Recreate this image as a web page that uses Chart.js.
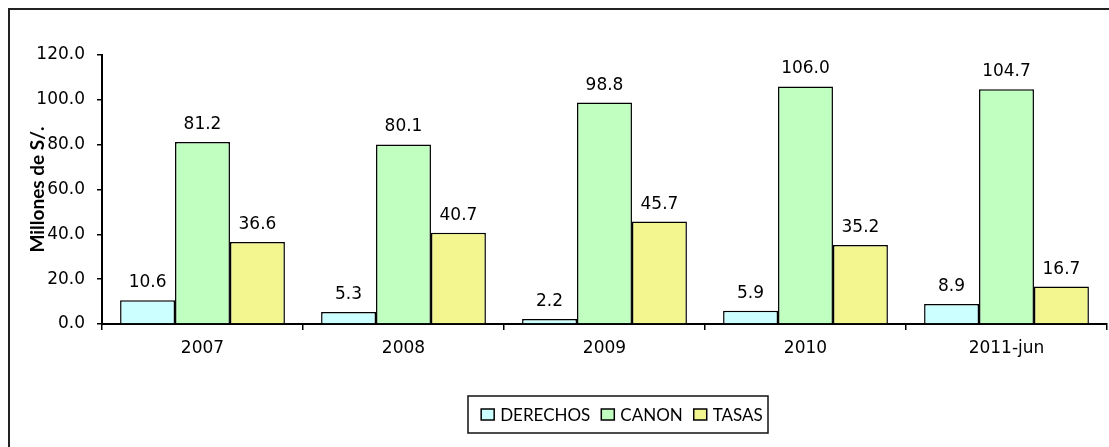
<!DOCTYPE html>
<html>
<head>
<meta charset="utf-8">
<script src="https://cdn.jsdelivr.net/npm/chart.js@4.4.0/dist/chart.umd.min.js"></script>
<style>
  html, body { margin: 0; padding: 0; background: #fff; }
  #wrap { width: 1109px; height: 447px; position: relative; }
</style>
</head>
<body>
<div id="wrap"><canvas id="c"></canvas></div>
<script>
// Recaudación por concepto (millones de soles)
const categories = ['2007', '2008', '2009', '2010', '2011-jun'];
const derechos = [10.6, 5.3, 2.2, 5.9, 8.9];
const canon = [81.2, 80.1, 98.8, 106.0, 104.7];
const tasas = [36.6, 40.7, 45.7, 35.2, 16.7];
const yTicks = [0, 20, 40, 60, 80, 100, 120];
const seriesNames = ['DERECHOS', 'CANON', 'TASAS'];
const seriesColors = ['#CCFFFF', '#C0FFC0', '#F3F68E'];

const NUM_FONT = '"DejaVu Sans", Verdana, sans-serif';
const TXT_FONT = 'Lato, "Open Sans", sans-serif';

// Thin frame along the top and left edges of the canvas
const framePlugin = {
  id: 'frame',
  beforeDraw(chart) {
    const ctx = chart.ctx;
    ctx.save();
    ctx.strokeStyle = '#222';
    ctx.lineWidth = 2;
    ctx.beginPath();
    ctx.moveTo(9, chart.height);
    ctx.lineTo(9, 9);
    ctx.lineTo(chart.width, 9);
    ctx.stroke();
    ctx.restore();
  }
};

// Value labels above each bar
const valueLabels = {
  id: 'valueLabels',
  afterDatasetsDraw(chart) {
    const ctx = chart.ctx;
    ctx.save();
    ctx.font = '17px ' + NUM_FONT;
    ctx.fillStyle = '#000';
    ctx.textAlign = 'center';
    ctx.textBaseline = 'alphabetic';
    chart.data.datasets.forEach((ds, i) => {
      chart.getDatasetMeta(i).data.forEach((bar, j) => {
        ctx.fillText(ds.data[j].toFixed(1), bar.x, bar.y - 13);
      });
    });
    ctx.restore();
  }
};

// Boxed legend under the plot
const boxLegend = {
  id: 'boxLegend',
  afterDraw(chart) {
    const ctx = chart.ctx;
    ctx.save();
    ctx.font = '17px ' + TXT_FONT;
    const sw = 13, sh = 11, gapIn = 6, gapOut = 11;
    const widths = seriesNames.map(n => ctx.measureText(n).width);
    const total = widths.reduce((a, w) => a + sw + gapIn + w, 0) + gapOut * (seriesNames.length - 1);
    const boxL = 468, boxR = 768, boxT = 396, boxB = 433;
    const cy = (boxT + boxB) / 2;
    ctx.strokeStyle = '#111';
    ctx.lineWidth = 1.5;
    ctx.fillStyle = '#fff';
    ctx.fillRect(boxL, boxT, boxR - boxL, boxB - boxT);
    ctx.strokeRect(boxL, boxT, boxR - boxL, boxB - boxT);
    let x = (boxL + boxR) / 2 - total / 2 + 4;
    ctx.textBaseline = 'middle';
    ctx.textAlign = 'left';
    seriesNames.forEach((n, i) => {
      ctx.fillStyle = seriesColors[i];
      ctx.fillRect(x, cy - sh / 2, sw, sh);
      ctx.strokeStyle = '#000';
      ctx.lineWidth = 1.5;
      ctx.strokeRect(x, cy - sh / 2, sw, sh);
      ctx.fillStyle = '#000';
      ctx.fillText(n, x + sw + gapIn, cy + 1);
      x += sw + gapIn + widths[i] + gapOut;
    });
    ctx.restore();
  }
};

const mk = (label, data, color) => ({
  label, data,
  backgroundColor: color,
  borderColor: '#000',
  borderWidth: 1.5,
  barPercentage: 1.0,
  categoryPercentage: 0.82
});

new Chart(document.getElementById('c'), {
  type: 'bar',
  data: {
    labels: categories,
    datasets: [
      mk(seriesNames[0], derechos, seriesColors[0]),
      mk(seriesNames[1], canon, seriesColors[1]),
      mk(seriesNames[2], tasas, seriesColors[2])
    ]
  },
  options: {
    responsive: true,
    maintainAspectRatio: false,
    animation: false,
    devicePixelRatio: 1,
    layout: { padding: { left: 10, right: 2, top: 55, bottom: 89 } },
    plugins: {
      legend: { display: false },
      tooltip: { enabled: false }
    },
    scales: {
      x: {
        offset: true,
        grid: { display: true, offset: true, drawOnChartArea: false, drawTicks: true, tickLength: 6, color: '#000', lineWidth: 1.5 },
        border: { display: true, color: '#000', width: 2 },
        ticks: { color: '#000', font: { family: NUM_FONT, size: 17 }, padding: 8, maxRotation: 0 },
        afterFit(scale) { scale.height = 34; }
      },
      y: {
        min: yTicks[0],
        max: yTicks[yTicks.length - 1],
        afterBuildTicks(scale) { scale.ticks = yTicks.map(v => ({ value: v })); },
        grid: { display: true, drawOnChartArea: false, drawTicks: true, tickLength: 5, color: '#000', lineWidth: 1.5 },
        border: { display: true, color: '#000', width: 2 },
        ticks: {
          color: '#000',
          font: { family: NUM_FONT, size: 17 },
          padding: 12,
          callback: v => Number(v).toFixed(1)
        },
        title: {
          display: true,
          text: 'Millones de S/.',
          color: '#000',
          font: { family: TXT_FONT, size: 19, weight: 'bold' },
          padding: { top: 16, bottom: 0 }
        },
        afterFit(scale) { scale.width = 92; }
      }
    }
  },
  plugins: [framePlugin, valueLabels, boxLegend]
});
</script>
</body>
</html>
